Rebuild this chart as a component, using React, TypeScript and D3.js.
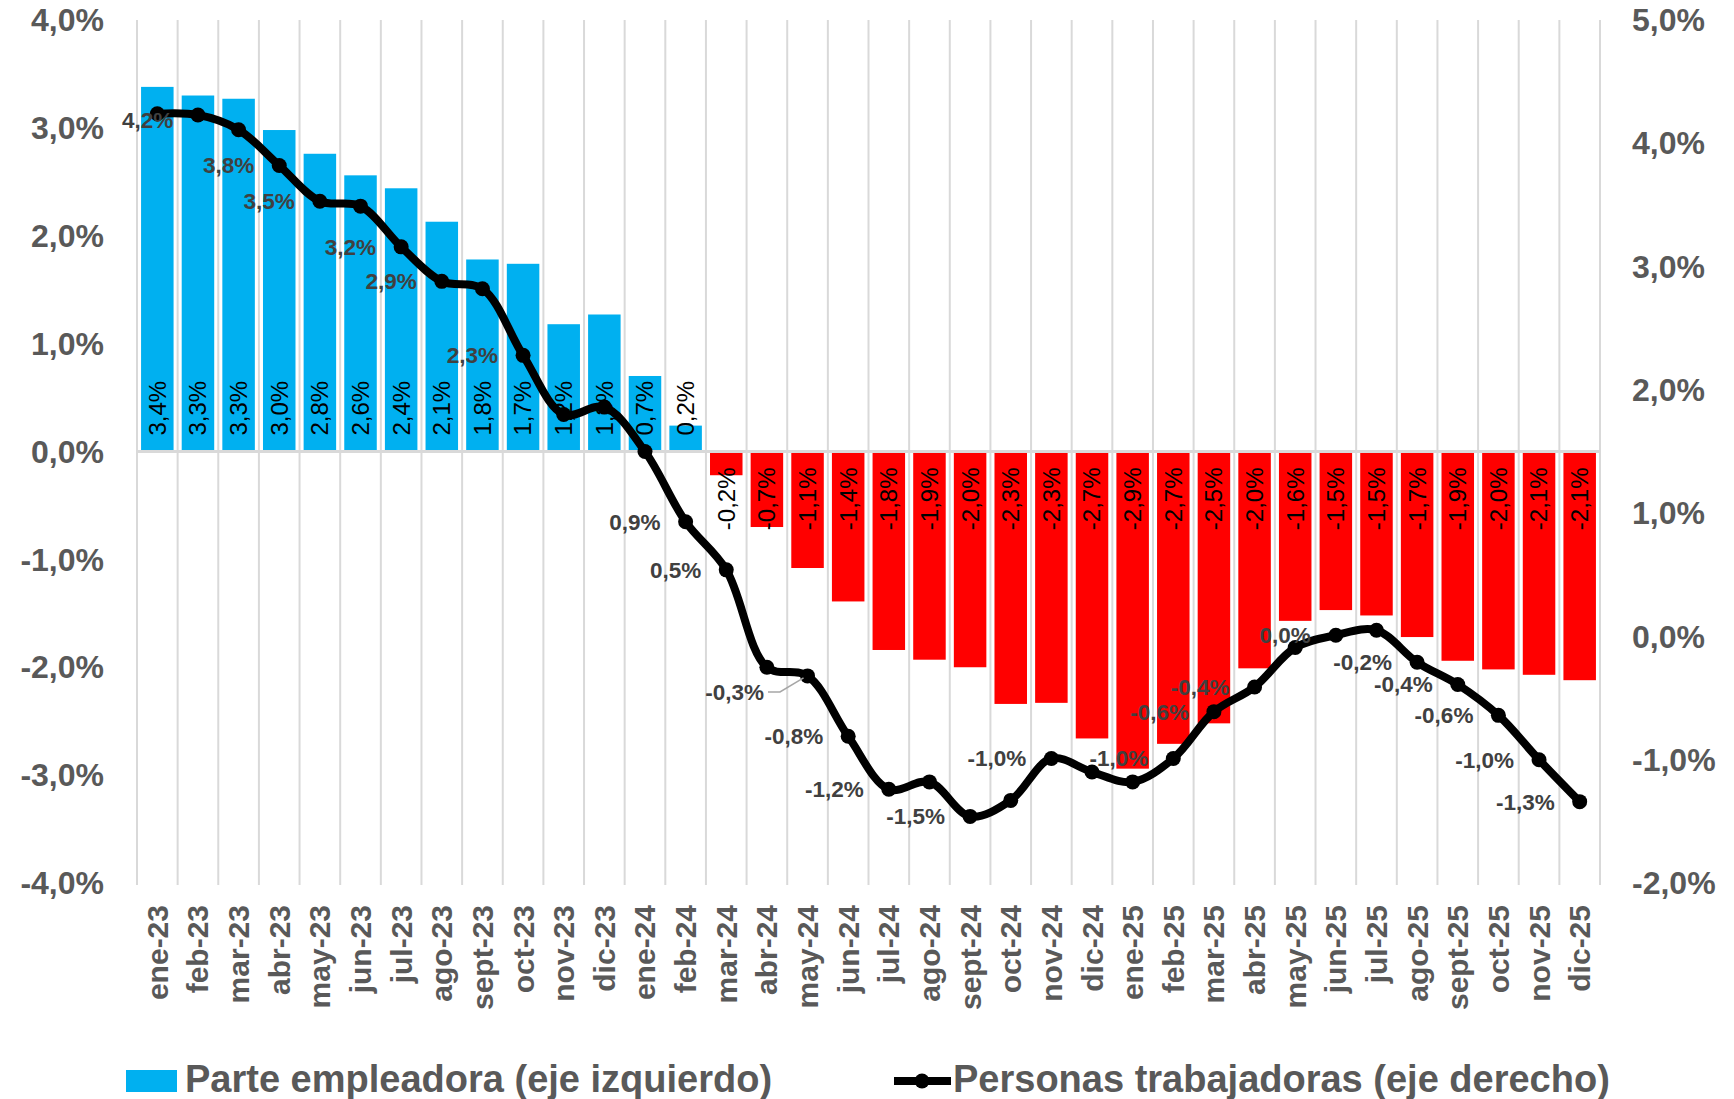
import * as d3 from "d3";

const months = [
  "ene-23", "feb-23", "mar-23", "abr-23", "may-23", "jun-23", "jul-23", "ago-23", "sept-23", "oct-23", "nov-23", "dic-23",
  "ene-24", "feb-24", "mar-24", "abr-24", "may-24", "jun-24", "jul-24", "ago-24", "sept-24", "oct-24", "nov-24", "dic-24",
  "ene-25", "feb-25", "mar-25", "abr-25", "may-25", "jun-25", "jul-25", "ago-25", "sept-25", "oct-25", "nov-25", "dic-25",
];

// Parte empleadora (eje izquierdo)
const empleadora = [
  3.38, 3.3, 3.27, 2.98, 2.76, 2.56, 2.44, 2.13, 1.78, 1.74, 1.18, 1.27,
  0.7, 0.24, -0.22, -0.7, -1.08, -1.39, -1.84, -1.93, -2.0, -2.34, -2.33, -2.66,
  -2.94, -2.71, -2.52, -2.01, -1.57, -1.47, -1.52, -1.72, -1.94, -2.02, -2.07, -2.12,
];

// Personas trabajadoras (eje derecho)
const trabajadoras = [
  4.24, 4.23, 4.11, 3.82, 3.53, 3.49, 3.16, 2.88, 2.82, 2.28, 1.8, 1.86,
  1.5, 0.93, 0.54, -0.25, -0.32, -0.81, -1.24, -1.18, -1.46, -1.33, -0.99, -1.1,
  -1.18, -0.99, -0.61, -0.41, -0.09, 0.01, 0.05, -0.21, -0.39, -0.64, -1.0, -1.34,
];

// which points of the line carry a data label
const lineLabelIdx = [0, 3, 4, 6, 7, 9, 13, 14, 16, 17, 18, 20, 22, 25, 26, 27, 29, 31, 32, 33, 34, 35];

const leftTicks = [4, 3, 2, 1, 0, -1, -2, -3, -4];
const rightTicks = [5, 4, 3, 2, 1, 0, -1, -2];

const W = 1734;
const H = 1099;
const top = 20;
const bottom = 883;
const left = 137;
const right = 1600;

const fmt = (v: number) => v.toFixed(1).replace(".", ",") + "%";
const FONT = "'Liberation Sans', Arial, sans-serif";

export default function App() {
  const x = d3.scaleBand<string>().domain(months).range([left, right]).paddingInner(0.2).paddingOuter(0.1);
  const yL = d3.scaleLinear().domain([-4, 4]).range([bottom, top]);
  const yR = d3.scaleLinear().domain([-2, 5]).range([bottom, top]);
  const step = x.step();
  const cx = (m: string) => x(m)! + x.bandwidth() / 2;

  const line = d3
    .line<number>()
    .x((_, i) => cx(months[i]))
    .y((d) => yR(d))
    .curve(d3.curveCatmullRom.alpha(0.5));

  const bounds = d3.range(months.length + 1).map((i) => left + i * step);

  return (
    <svg width={W} height={H} style={{ position: "absolute", left: 0, top: 0, background: "#fff" }} fontFamily={FONT}>
      {/* vertical gridlines */}
      {bounds.map((bx, i) => (
        <line key={i} x1={bx} x2={bx} y1={top} y2={bottom + 2} stroke="#d9d9d9" strokeWidth={2} />
      ))}

      {/* bars */}
      {empleadora.map((v, i) => (
        <rect
          key={i}
          x={x(months[i])}
          width={x.bandwidth()}
          y={v >= 0 ? yL(v) : yL(0)}
          height={Math.abs(yL(v) - yL(0))}
          fill={v >= 0 ? "#00B0F0" : "#FF0000"}
        />
      ))}
      <line x1={left} x2={right} y1={yL(0)} y2={yL(0)} stroke="#d9d9d9" strokeWidth={3} />

      {/* bar labels (inside base, vertical) */}
      {empleadora.map((v, i) => {
        const px = cx(months[i]);
        const py = v >= 0 ? yL(0) - 16 : yL(0) + 16;
        return (
          <text
            key={i}
            transform={`translate(${px},${py}) rotate(-90)`}
            textAnchor={v >= 0 ? "start" : "end"}
            dy="0.35em"
            fontSize={24}
            fill="#000"
          >
            {fmt(v)}
          </text>
        );
      })}

      {/* line */}
      <path d={line(trabajadoras)!} fill="none" stroke="#000" strokeWidth={8} strokeLinejoin="round" />
      {trabajadoras.map((v, i) => (
        <circle key={i} cx={cx(months[i])} cy={yR(v)} r={7.5} fill="#000" />
      ))}

      {/* leader line for the moved label */}
      <polyline
        points={`768,692 780,692 ${cx(months[16]) - 4},${yR(trabajadoras[16]) + 2}`}
        fill="none"
        stroke="#a6a6a6"
        strokeWidth={1.5}
      />

      {/* line labels */}
      {lineLabelIdx.map((i) => {
        let lx = cx(months[i]) - 25;
        let ly = yR(trabajadoras[i]);
        if (i === 0) {
          lx += 41;
          ly += 6;
        }
        if (i === 16) {
          lx = 764;
          ly = 692;
        }
        return (
          <text key={i} x={lx} y={ly} dy="0.35em" textAnchor="end" fontSize={22.5} fontWeight="bold" fill="#404040">
            {fmt(trabajadoras[i])}
          </text>
        );
      })}

      {/* left axis */}
      {leftTicks.map((t) => (
        <text key={t} x={104} y={yL(t)} dy="0.35em" textAnchor="end" fontSize={32} fontWeight="bold" fill="#595959">
          {fmt(t)}
        </text>
      ))}
      {/* right axis */}
      {rightTicks.map((t) => (
        <text key={t} x={1632} y={yR(t)} dy="0.35em" textAnchor="start" fontSize={32} fontWeight="bold" fill="#595959">
          {fmt(t)}
        </text>
      ))}

      {/* category labels */}
      {months.map((m) => (
        <text
          key={m}
          transform={`translate(${cx(m)},905) rotate(-90)`}
          textAnchor="end"
          dy="0.35em"
          fontSize={30}
          fontWeight="bold"
          fill="#595959"
        >
          {m}
        </text>
      ))}

      {/* legend */}
      <rect x={126} y={1070} width={51} height={22} fill="#00B0F0" />
      <text x={185} y={1092} fontSize={38} fontWeight="bold" fill="#595959">
        Parte empleadora (eje izquierdo)
      </text>
      <line x1={894} x2={951} y1={1081} y2={1081} stroke="#000" strokeWidth={8} />
      <circle cx={922} cy={1081} r={7.5} fill="#000" />
      <text x={953} y={1092} fontSize={38} fontWeight="bold" fill="#595959">
        Personas trabajadoras (eje derecho)
      </text>
    </svg>
  );
}
